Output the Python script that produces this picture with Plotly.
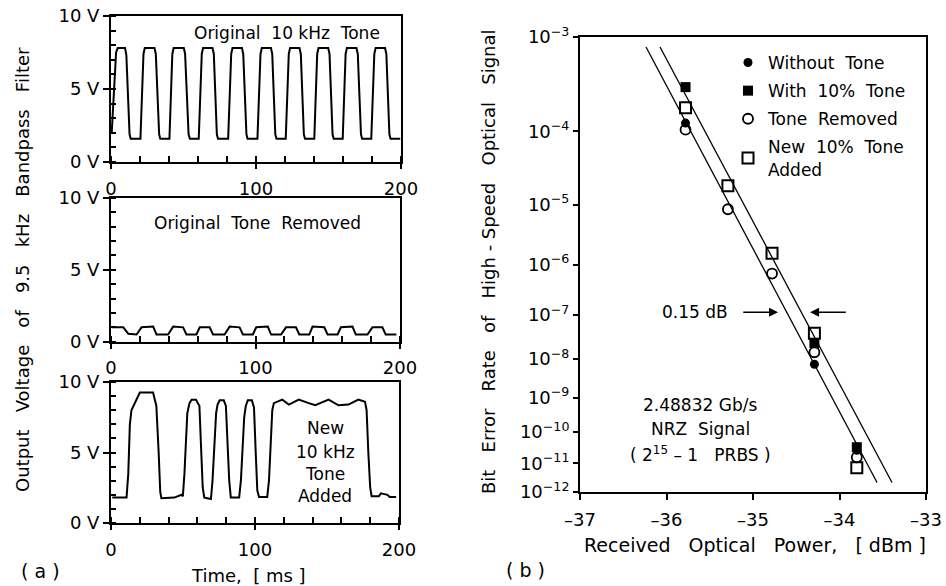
import numpy as np
import plotly.graph_objects as go

# ---------------- data: panel (a) waveforms (time in ms, voltage in V) ----------------
TOP_T = [0.5, 3.5, 4.6, 9.7, 10.6, 12.8, 13.6,
         20.3, 22.4, 23.3, 30.0, 30.9, 33.2, 34.0,
         40.3, 42.3, 43.2, 50.2, 51.1, 53.5, 54.4,
         60.5, 62.6, 63.5, 70.0, 70.9, 73.0, 73.8,
         80.8, 82.9, 83.8, 90.3, 91.2, 93.4, 94.2,
         101.0, 103.1, 104.0, 110.3, 111.2, 113.3, 114.1,
         120.5, 122.6, 123.5, 130.0, 130.9, 133.0, 133.8,
         140.2, 142.2, 143.1, 149.8, 150.7, 152.8, 153.6,
         159.8, 161.8, 162.7, 169.3, 170.2, 172.4, 173.2,
         179.5, 181.6, 182.5, 189.0, 189.9, 192.0, 192.8, 199.5]
TOP_V = [2.0, 7.5, 7.8, 7.8, 7.3, 1.9, 1.6,
         1.6, 7.4, 7.8, 7.8, 7.4, 1.9, 1.6,
         1.6, 7.4, 7.8, 7.8, 7.4, 1.9, 1.6,
         1.6, 7.4, 7.8, 7.8, 7.4, 1.9, 1.6,
         1.6, 7.4, 7.8, 7.8, 7.4, 1.9, 1.6,
         1.6, 7.4, 7.8, 7.8, 7.4, 1.9, 1.6,
         1.6, 7.4, 7.8, 7.8, 7.4, 1.9, 1.6,
         1.6, 7.4, 7.8, 7.8, 7.4, 1.9, 1.6,
         1.6, 7.4, 7.8, 7.8, 7.4, 1.9, 1.6,
         1.6, 7.4, 7.8, 7.8, 7.4, 1.9, 1.6, 1.6]

MID_T = [0.5, 8.5, 12.0, 17.7, 21.1, 29.2, 31.5, 39.5, 43.0, 49.9, 52.2, 59.1,
         61.4, 68.3, 70.6, 78.6, 82.1, 89.0, 91.3, 98.2, 100.5, 108.5, 110.8,
         117.7, 121.1, 128.0, 130.3, 137.2, 139.5, 147.6, 149.9, 156.8, 159.1,
         167.1, 169.4, 177.5, 180.9, 187.8, 190.1, 197.5]
MID_V = [1.0, 1.0, 0.55, 0.5, 1.0, 1.05, 0.5, 0.5, 1.05, 1.0, 0.5, 0.5,
         1.0, 1.0, 0.5, 0.5, 1.05, 1.0, 0.5, 0.5, 1.0, 1.05, 0.5,
         0.5, 1.0, 1.0, 0.5, 0.5, 1.05, 1.0, 0.5, 0.5, 1.0,
         1.05, 0.5, 0.5, 1.0, 1.0, 0.5, 0.5]

BOT_T = [0.9, 10.8, 12.0, 13.1, 14.2, 16.6, 18.5, 20.0, 29.2, 30.5, 31.5, 33.1, 34.2, 35.0,
         44.0, 49.0, 49.9, 51.0, 51.7, 53.0, 54.5, 56.0, 59.0, 61.4, 62.5, 63.7, 64.8,
         69.4, 70.5, 71.7, 73.0, 74.0, 75.5, 78.3, 79.8, 81.0, 82.1, 83.2,
         89.0, 90.2, 91.3, 92.5, 93.6, 95.0, 97.8, 99.3, 100.5, 101.6, 102.8,
         108.5, 109.7, 111.0, 112.0, 113.1, 114.3, 118.9, 123.5, 130.4, 137.3, 141.9,
         151.1, 158.0, 164.9, 171.8, 176.4, 177.5, 178.7, 180.0, 181.0,
         186.0, 187.5, 192.0, 193.5, 198.0]
BOT_V = [1.8, 1.8, 3.5, 7.0, 8.0, 8.5, 9.0, 9.25, 9.25, 8.8, 8.3, 5.0, 2.2, 1.75,
         1.8, 2.0, 1.9, 3.5, 5.0, 7.8, 8.5, 8.75, 8.75, 8.3, 5.5, 2.5, 1.8,
         1.7, 3.0, 5.0, 7.8, 8.4, 8.7, 8.7, 8.3, 5.5, 3.0, 1.8,
         1.8, 3.0, 5.0, 7.5, 8.3, 8.7, 8.7, 8.2, 5.0, 2.3, 1.85,
         1.85, 3.0, 6.0, 8.0, 8.5, 8.55, 8.75, 8.4, 8.75, 8.5, 8.35,
         8.75, 8.35, 8.4, 8.75, 8.6, 8.0, 5.0, 2.5, 1.9,
         1.9, 2.1, 2.0, 1.85, 1.85]

V_TICKS = [0, 5, 10]
V_LABELS = ["0 V", "5 V", "10 V"]
T_TICKS = [0, 100, 200]

# ---------------- data: panel (b) BER vs received power ----------------
P_WITHOUT = [-35.78, -34.29, -33.80]
BER_WITHOUT = [1.26e-4, 7.4e-9, 2.7e-11]
P_WITH = [-35.78, -34.29, -33.80]
BER_WITH = [3.2e-4, 2.4e-8, 3.4e-11]
P_REMOVED = [-35.78, -35.29, -34.78, -34.29, -33.80]
BER_REMOVED = [1.05e-4, 8.5e-6, 6.8e-7, 1.45e-8, 1.6e-11]
P_NEW = [-35.78, -35.29, -34.78, -34.29, -33.80]
BER_NEW = [1.9e-4, 1.9e-5, 1.6e-6, 4.0e-8, 7.1e-12]

FIT1_P = [-36.237, -33.566]
FIT1_BER = [8.07e-4, 2.2e-12]
FIT2_P = [-36.075, -33.393]
FIT2_BER = [8.07e-4, 2.2e-12]

BER_DECADES = [3, 4, 5, 6, 7, 8, 9, 10, 11, 12]
P_TICKS = [-37, -36, -35, -34, -33]
P_LABELS = ["–37", "–36", "–35", "–34", "–33"]


def ber_scale(b):
    """BER axis scale used by the chart: log10(-log10(BER))."""
    return list(np.log10(-np.log10(np.asarray(b, dtype=float))))


W, H = 946, 586
FONT = "DejaVu Sans"


def px(x):
    return x / W


def py(y):
    return 1 - y / H


fig = go.Figure()

wave_style = dict(mode="lines", line=dict(color="black", width=2), showlegend=False, hoverinfo="skip")
fig.add_trace(go.Scatter(x=TOP_T, y=TOP_V, xaxis="x", yaxis="y", **wave_style))
fig.add_trace(go.Scatter(x=MID_T, y=MID_V, xaxis="x2", yaxis="y2", **wave_style))
fig.add_trace(go.Scatter(x=BOT_T, y=BOT_V, xaxis="x3", yaxis="y3", **wave_style))

line_style = dict(mode="lines", line=dict(color="black", width=1.3), showlegend=False, hoverinfo="skip")
fig.add_trace(go.Scatter(x=FIT1_P, y=ber_scale(FIT1_BER), xaxis="x4", yaxis="y4", **line_style))
fig.add_trace(go.Scatter(x=FIT2_P, y=ber_scale(FIT2_BER), xaxis="x4", yaxis="y4", **line_style))

fig.add_trace(go.Scatter(x=P_WITHOUT, y=ber_scale(BER_WITHOUT), xaxis="x4", yaxis="y4", mode="markers",
                         name="Without  Tone", legendgroup="a",
                         marker=dict(symbol="circle", size=9, color="black")))
fig.add_trace(go.Scatter(x=P_WITH, y=ber_scale(BER_WITH), xaxis="x4", yaxis="y4", mode="markers",
                         name="With  10%  Tone", legendgroup="b",
                         marker=dict(symbol="square", size=10, color="black")))
fig.add_trace(go.Scatter(x=P_REMOVED, y=ber_scale(BER_REMOVED), xaxis="x4", yaxis="y4", mode="markers",
                         name="Tone  Removed", legendgroup="c",
                         marker=dict(symbol="circle-open", size=10, color="black", line=dict(width=1.8))))
fig.add_trace(go.Scatter(x=P_NEW, y=ber_scale(BER_NEW), xaxis="x4", yaxis="y4", mode="markers",
                         name="New  10%  Tone<br>Added", legendgroup="d",
                         marker=dict(symbol="square-open", size=11, color="black", line=dict(width=2))))

tickfont = dict(family=FONT, size=18, color="black")

left_x = dict(range=[0, 200], tickvals=T_TICKS, ticks="outside", ticklen=5, tickwidth=1.5,
              minor=dict(dtick=20, ticks="inside", ticklen=6, tickwidth=1.5, tickcolor="black"),
              showline=True, linewidth=2, linecolor="black", mirror=True, showgrid=False,
              zeroline=False, tickfont=tickfont, ticklabelstandoff=4, automargin=False,
              fixedrange=True, tickcolor="black")
left_y = dict(range=[0, 10], tickvals=V_TICKS, ticktext=V_LABELS, ticks="outside", ticklen=6, tickwidth=1.5,
              minor=dict(dtick=1, ticks="inside", ticklen=5, tickwidth=1.5, tickcolor="black"),
              showline=True, linewidth=2, linecolor="black", mirror=True, showgrid=False,
              zeroline=False, tickfont=tickfont, automargin=False, fixedrange=True, tickcolor="black")

fig.update_layout(
    xaxis=dict(domain=[px(111), px(401)], anchor="y", **left_x),
    yaxis=dict(domain=[py(162), py(16)], anchor="x", **left_y),
    xaxis2=dict(domain=[px(111), px(400)], anchor="y2", **left_x),
    yaxis2=dict(domain=[py(341.7), py(198)], anchor="x2", **left_y),
    xaxis3=dict(domain=[px(111), px(399)], anchor="y3", **left_x),
    yaxis3=dict(domain=[py(523), py(382)], anchor="x3", **left_y),
    xaxis4=dict(domain=[px(580), px(926)], anchor="y4", range=[-37, -33], tickvals=P_TICKS,
                ticktext=P_LABELS, ticks="outside", ticklen=6, tickwidth=1.5, tickcolor="black",
                showline=True, linewidth=2, linecolor="black", mirror=True, showgrid=False,
                zeroline=False, tickfont=tickfont, ticklabelstandoff=4, automargin=False, fixedrange=True),
    yaxis4=dict(domain=[py(492), py(37)], anchor="x4", range=[float(np.log10(12)), float(np.log10(3))],
                tickvals=[float(np.log10(n)) for n in BER_DECADES],
                ticktext=["10<sup>−%d</sup>" % n for n in BER_DECADES],
                ticks="outside", ticklen=5, tickwidth=1.5, tickcolor="black",
                showline=True, linewidth=2, linecolor="black", mirror=True, showgrid=False,
                zeroline=False, tickfont=tickfont, automargin=False, fixedrange=True),
    width=W, height=H, autosize=False,
    margin=dict(l=0, r=0, t=0, b=0),
    paper_bgcolor="white", plot_bgcolor="white",
    font=dict(family=FONT, size=18, color="black"),
    showlegend=True,
    legend=dict(x=px(728), y=py(45), xanchor="left", yanchor="top",
                font=dict(family=FONT, size=17, color="black"),
                bgcolor="rgba(0,0,0,0)", borderwidth=0, tracegroupgap=3,
                traceorder="grouped", itemclick=False, itemdoubleclick=False),
)


def note(x, y, text, size=18, angle=0, xanchor="center"):
    fig.add_annotation(x=px(x), y=py(y), xref="paper", yref="paper", text=text, showarrow=False,
                       font=dict(family=FONT, size=size, color="black"), textangle=angle,
                       xanchor=xanchor, yanchor="middle")


# panel (a) labels
note(287, 33, "Original  10 kHz  Tone", size=17)
note(257, 223, "Original  Tone  Removed", size=17)
note(325, 428, "New", size=17)
note(325, 452, "10 kHz", size=17)
note(325, 474, "Tone", size=17)
note(325, 496, "Added", size=17)
note(22, 270, "Output   Voltage   of   9.5   kHz   Bandpass   Filter", size=18, angle=-90)
note(249, 575, "Time,  [ ms ]", size=18)
note(40, 571, "( a )", size=19)

# panel (b) labels
note(488, 261, "Bit   Error   Rate   of   High - Speed   Optical   Signal", size=18, angle=-90)
note(755, 545, "Received   Optical   Power,   [ dBm ]", size=19)
note(525, 570, "( b )", size=19)
note(695, 312, "0.15 dB", size=17)
note(700, 405, "2.48832 Gb/s", size=17)
note(700, 429, "NRZ  Signal", size=17)
note(700, 454, "( 2<sup>15</sup> – 1   PRBS )", size=17)

# 0.15 dB arrows (positions in axis units)
ARROW_Y = float(np.log10(6.94))
for head, tail in [(-34.71, -35.13), (-34.34, -33.91)]:
    fig.add_annotation(x=head, y=ARROW_Y, ax=tail, ay=ARROW_Y, xref="x4", yref="y4",
                       axref="x4", ayref="y4", text="", showarrow=True,
                       arrowhead=2, arrowsize=1.2, arrowwidth=1.5, arrowcolor="black")

fig.write_html("out.html", config={"displayModeBar": False},
               post_script="document.body.style.margin='0';document.body.style.padding='0';")
